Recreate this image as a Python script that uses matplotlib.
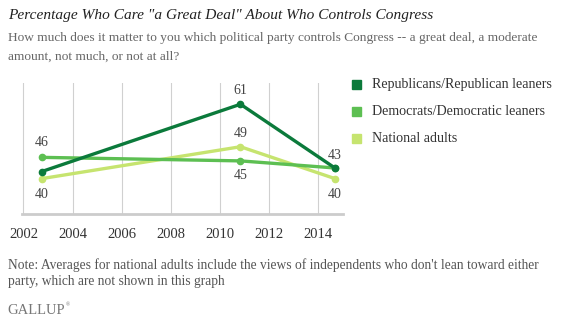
import matplotlib
matplotlib.use("Agg")
import matplotlib.pyplot as plt

# data
years = [2002.75, 2010.83, 2014.67]
rep = [42, 61, 43]
dem = [46, 45, 43]
nat = [40, 49, 40]
series_names = ["Republicans/Republican leaners", "Democrats/Democratic leaners", "National adults"]
colors = ["#0b7a3b", "#5dbf52", "#c6e46f"]
tick_years = [2002, 2004, 2006, 2008, 2010, 2012, 2014]

plt.rcParams["font.family"] = ["Liberation Serif", "DejaVu Serif"]

W, H = 568, 324
fig = plt.figure(figsize=(W / 100, H / 100), dpi=100)
ax = fig.add_axes([21.7 / W, 1 - 214 / H, (343 - 21.7) / W, (214 - 83) / H])

for yr in tick_years:
    ax.axvline(yr, color="#d0d0d0", lw=0.8, zorder=0)

for vals, c in zip([nat, dem, rep], [colors[2], colors[1], colors[0]]):
    ax.plot(years, vals, color=c, lw=2.4, marker="o", ms=4.5, zorder=3,
            solid_capstyle="round")

ax.set_xlim(2001.93, 2015.0)
ax.set_ylim(30, 67)
for s in ["top", "right", "left"]:
    ax.spines[s].set_visible(False)
ax.spines["bottom"].set_color("#cccccc")
ax.spines["bottom"].set_linewidth(2)
ax.set_yticks([])
ax.set_xticks(tick_years)
ax.set_xticklabels([str(y) for y in tick_years], fontsize=10.5, color="#333333")
ax.tick_params(axis="x", length=0, pad=10)

lab = dict(fontsize=10, color="#444444", ha="center")
ax.annotate("46", (years[0], dem[0]), xytext=(0, 6), textcoords="offset points", va="bottom", **lab)
ax.annotate("40", (years[0], nat[0]), xytext=(0, -7), textcoords="offset points", va="top", **lab)
ax.annotate("61", (years[1], rep[1]), xytext=(0, 5), textcoords="offset points", va="bottom", **lab)
ax.annotate("49", (years[1], nat[1]), xytext=(0, 5), textcoords="offset points", va="bottom", **lab)
ax.annotate("45", (years[1], dem[1]), xytext=(0, -6), textcoords="offset points", va="top", **lab)
ax.annotate("43", (years[2], rep[2]), xytext=(0, 4), textcoords="offset points", va="bottom", **lab)
ax.annotate("40", (years[2], nat[2]), xytext=(0, -7), textcoords="offset points", va="top", **lab)

# legend drawn as squares + text
for i, (name, c) in enumerate(zip(series_names, colors)):
    yc = 84.5 + i * 27
    fig.patches.append(plt.Rectangle((352 / W, 1 - (yc + 4.5) / H), 9 / W, 9 / H,
                                     transform=fig.transFigure, color=c))
    fig.text(372 / W, 1 - yc / H, name, fontsize=10.1, color="#333333", va="center")

fig.text(8 / W, 1 - 15 / H, 'Percentage Who Care "a Great Deal" About Who Controls Congress',
         fontsize=11.05, style="italic", color="#222222", va="center")
fig.text(8 / W, 1 - 38 / H,
         "How much does it matter to you which political party controls Congress -- a great deal, a moderate",
         fontsize=9.6, color="#666666", va="center")
fig.text(8 / W, 1 - 57 / H, "amount, not much, or not at all?", fontsize=9.6, color="#666666", va="center")
fig.text(8 / W, 1 - 265 / H,
         "Note: Averages for national adults include the views of independents who don't lean toward either",
         fontsize=9.75, color="#555555", va="center")
fig.text(8 / W, 1 - 282 / H, "party, which are not shown in this graph", fontsize=9.75, color="#555555", va="center")
fig.text(7 / W, 1 - 310 / H, "GALLUP", fontsize=10.5, color="#777777", va="center")
fig.text(66 / W, 1 - 305 / H, "\u00ae", fontsize=4, color="#777777", va="center")

fig.savefig("out.png", dpi=100)
